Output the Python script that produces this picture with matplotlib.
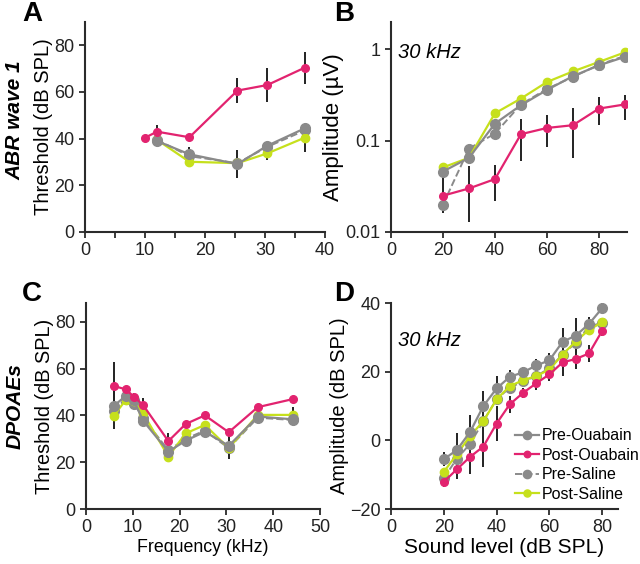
import matplotlib
matplotlib.use("Agg")
import matplotlib.pyplot as plt
import numpy as np

plt.rcParams.update({
    "font.family": ["Liberation Sans", "DejaVu Sans"],
    "font.size": 13,
    "axes.linewidth": 1.5,
    "axes.edgecolor": "#2b2b2b",
    "xtick.color": "#2b2b2b",
    "ytick.color": "#2b2b2b",
    "xtick.labelcolor": "#222222",
    "ytick.labelcolor": "#222222",
    "xtick.major.width": 1.3,
    "ytick.major.width": 1.3,
    "xtick.major.size": 4,
    "ytick.major.size": 4,
    "xtick.minor.width": 1.3,
    "xtick.minor.size": 4,
})

GRAY = "#8a8a8a"
PINK = "#e2236f"
GREEN = "#c6e01c"

# === A: ABR wave 1 thresholds ===
a_freq = [10.0, 12.0, 17.4, 25.4, 30.4, 36.6]
a_pre_oua = [np.nan, 39.0, 33.3, 29.1, 37.0, 44.4]
a_post_oua = [40.4, 43.0, 40.6, 60.6, 63.0, 70.4]
a_pre_sal = [np.nan, 39.5, 32.5, 29.5, 36.5, 43.5]
a_post_sal = [np.nan, 39.5, 30.1, 29.5, 33.7, 40.4]
a_err_oua = [0, 3, 0, 5.5, 7.3, 6.8]
a_err_pre = [0, 0, 3, 6, 0, 0]
a_err_sal = [0, 0, 0, 0, 3, 6]

# === B: ABR wave 1 amplitude at 30 kHz ===
b_level = [20, 30, 40, 50, 60, 70, 80, 90]
b_pre_oua = [0.046, 0.065, 0.154, 0.245, 0.36, 0.51, 0.67, 0.83]
b_post_oua = [0.025, 0.030, 0.038, 0.118, 0.138, 0.148, 0.225, 0.25]
b_pre_sal = [0.020, 0.082, 0.12, 0.25, 0.37, 0.50, 0.68, 0.85]
b_post_sal = [0.051, 0.065, 0.20, 0.29, 0.44, 0.575, 0.73, 0.93]
b_oua_lo = [0.016, 0.013, 0.022, 0.060, 0.085, 0.065, 0.148, 0.17]
b_oua_hi = [0.056, 0.053, 0.054, 0.175, 0.19, 0.23, 0.30, 0.32]

# === C: DPOAE thresholds ===
c_freq = [5.9, 8.5, 10.2, 12.2, 17.6, 21.3, 25.4, 30.5, 36.7, 44.3]
c_pre_oua = [44.0, 48.3, 46.6, 37.7, 24.5, 29.2, 33.0, 27.0, 39.5, 38.3]
c_post_oua = [52.6, 51.1, 48.0, 44.4, 29.0, 36.3, 40.0, 32.8, 43.5, 47.0]
c_pre_sal = [42.0, 47.0, 45.0, 39.0, 25.0, 30.0, 33.5, 26.0, 39.0, 38.0]
c_post_sal = [39.7, 46.6, 46.0, 40.9, 22.4, 32.3, 35.9, 26.0, 40.2, 40.2]
c_err_oua = [10, 0, 0, 3, 3.5, 0, 0, 0, 0, 0]
c_err_pre = [10, 0, 3, 0, 0, 0, 0, 5.5, 0, 0]
c_err_sal = [0, 0, 0, 0, 0, 0, 0, 0, 0, 3.5]

# === D: DPOAE amplitude at 30 kHz ===
d_level = [20, 25, 30, 35, 40, 45, 50, 55, 60, 65, 70, 75, 80]
d_pre_oua = [-5.5, -2.8, 2.5, 10.0, 15.1, 18.5, 19.8, 21.8, 23.3, 28.7, 30.5, 33.9, 38.5]
d_post_oua = [-12.1, -8.4, -4.8, -1.8, 4.9, 10.5, 13.8, 16.6, 19.2, 22.7, 23.7, 25.3, 31.9]
d_pre_sal = [-11.0, -5.3, -1.0, 5.6, 12.0, 15.3, 17.2, 18.7, 21.0, 25.0, 28.4, 33.2, 34.2]
d_post_sal = [-9.2, -4.0, 1.3, 5.6, 11.9, 15.8, 17.5, 18.7, 20.6, 25.0, 28.8, 32.2, 34.4]
d_err_oua = [1.5, 3, 5, 6, 5, 2.5, 1.5, 2, 2, 4, 3, 2.5, 1.5]
d_err_pre = [2, 5, 5, 4.5, 3.5, 2, 1.5, 2, 2, 4, 5, 2, 1.5]

series_labels = ["Pre-Ouabain", "Post-Ouabain", "Pre-Saline", "Post-Saline"]

fig = plt.figure(figsize=(6.4, 5.64), dpi=100)
W, H = 640.0, 564.0


def add_ax(l, r, t, b):
    ax = fig.add_axes([l / W, 1 - b / H, (r - l) / W, (b - t) / H])
    ax.spines["top"].set_visible(False)
    ax.spines["right"].set_visible(False)
    ax.patch.set_alpha(0)
    return ax


def draw(ax, x, pre_oua, post_oua, pre_sal, post_sal, errs):
    for y, e in errs:
        y = np.asarray(y, dtype=float)
        if isinstance(e, tuple):
            lo, hi = e
            ax.vlines(x, lo, hi, color="#222222", lw=1.4, zorder=1)
        else:
            e = np.asarray(e, dtype=float)
            m = e > 0
            ax.vlines(np.asarray(x)[m], (y - e)[m], (y + e)[m], color="#222222", lw=1.4, zorder=1)
    h3, = ax.plot(x, pre_sal, "--", color=GRAY, lw=1.4, marker="o", ms=7, zorder=2)
    h4, = ax.plot(x, post_sal, "-", color=GREEN, lw=1.6, marker="o", ms=6, zorder=3)
    h1, = ax.plot(x, pre_oua, "-", color=GRAY, lw=1.6, marker="o", ms=7, zorder=4)
    h2, = ax.plot(x, post_oua, "-", color=PINK, lw=1.6, marker="o", ms=5.5, zorder=5)
    return [h1, h2, h3, h4]


# A
axA = add_ax(85, 325, 22, 232)
draw(axA, a_freq, a_pre_oua, a_post_oua, a_pre_sal, a_post_sal,
     [(a_post_oua, a_err_oua), (a_pre_oua, a_err_pre), (a_post_sal, a_err_sal)])
axA.set_xlim(0, 40)
axA.set_ylim(0, 90)
axA.set_xticks([0, 10, 20, 30, 40])
axA.set_xticks([5, 15, 25, 35], minor=True)
axA.set_yticks([0, 20, 40, 60, 80])
axA.set_ylabel("Threshold (dB SPL)", labelpad=1, fontsize=14.5)

# B
axB = add_ax(391, 627, 22, 232)
draw(axB, b_level, b_pre_oua, b_post_oua, b_pre_sal, b_post_sal,
     [(b_post_oua, (b_oua_lo, b_oua_hi))])
axB.set_yscale("log")
axB.set_xlim(0, 90.8)
axB.set_ylim(0.01, 2)
axB.set_xticks([0, 20, 40, 60, 80])
axB.set_yticks([0.01, 0.1, 1])
axB.set_yticklabels(["0.01", "0.1", "1"])
axB.yaxis.set_minor_locator(matplotlib.ticker.NullLocator())
axB.set_ylabel("Amplitude (µV)", labelpad=1, fontsize=16)
axB.text(0.03, 0.83, "30 kHz", transform=axB.transAxes, style="italic", fontsize=14.5)

# C
axC = add_ax(86, 320, 303, 509)
draw(axC, c_freq, c_pre_oua, c_post_oua, c_pre_sal, c_post_sal,
     [(c_post_oua, c_err_oua), (c_pre_oua, c_err_pre), (c_post_sal, c_err_sal)])
axC.set_xlim(0, 50)
axC.set_ylim(0, 88)
axC.set_xticks([0, 10, 20, 30, 40, 50])
axC.set_yticks([0, 20, 40, 60, 80])
axC.set_ylabel("Threshold (dB SPL)", labelpad=1, fontsize=14.3)
axC.set_xlabel("Frequency (kHz)", labelpad=2, fontsize=12.8)

# D
axD = add_ax(391, 618, 303, 509)
handles = draw(axD, d_level, d_pre_oua, d_post_oua, d_pre_sal, d_post_sal,
               [(d_post_oua, d_err_oua), (d_pre_oua, d_err_pre)])
axD.set_xlim(0, 86)
axD.set_ylim(-20, 40)
axD.set_xticks([0, 20, 40, 60, 80])
axD.set_yticks([-20, 0, 20, 40])
axD.set_ylabel("Amplitude (dB SPL)", labelpad=1, fontsize=14.5)
axD.set_xlabel("Sound level (dB SPL)", labelpad=1, fontsize=15)
axD.text(0.03, 0.79, "30 kHz", transform=axD.transAxes, style="italic", fontsize=14.5)
fig.legend(handles, series_labels, loc="center left",
           bbox_to_anchor=(515 / W, 1 - 465 / H), frameon=False, fontsize=11.5,
           handlelength=1.5, handletextpad=0.15, labelspacing=0.28,
           borderpad=0, borderaxespad=0, markerscale=0.85)

# row titles and panel letters
fig.text(15 / W, 1 - 120 / H, "ABR wave 1", rotation=90, ha="center", va="center",
         fontsize=15, fontweight="bold", style="italic")
fig.text(15 / W, 1 - 406 / H, "DPOAEs", rotation=90, ha="center", va="center",
         fontsize=15, fontweight="bold", style="italic")
for lbl, x, y in [("A", 22, 14), ("B", 334, 14), ("C", 22, 294), ("D", 334, 294)]:
    fig.text(x / W, 1 - y / H, lbl, ha="left", va="center", fontsize=20, fontweight="bold")

fig.savefig("out.png", dpi=100)
